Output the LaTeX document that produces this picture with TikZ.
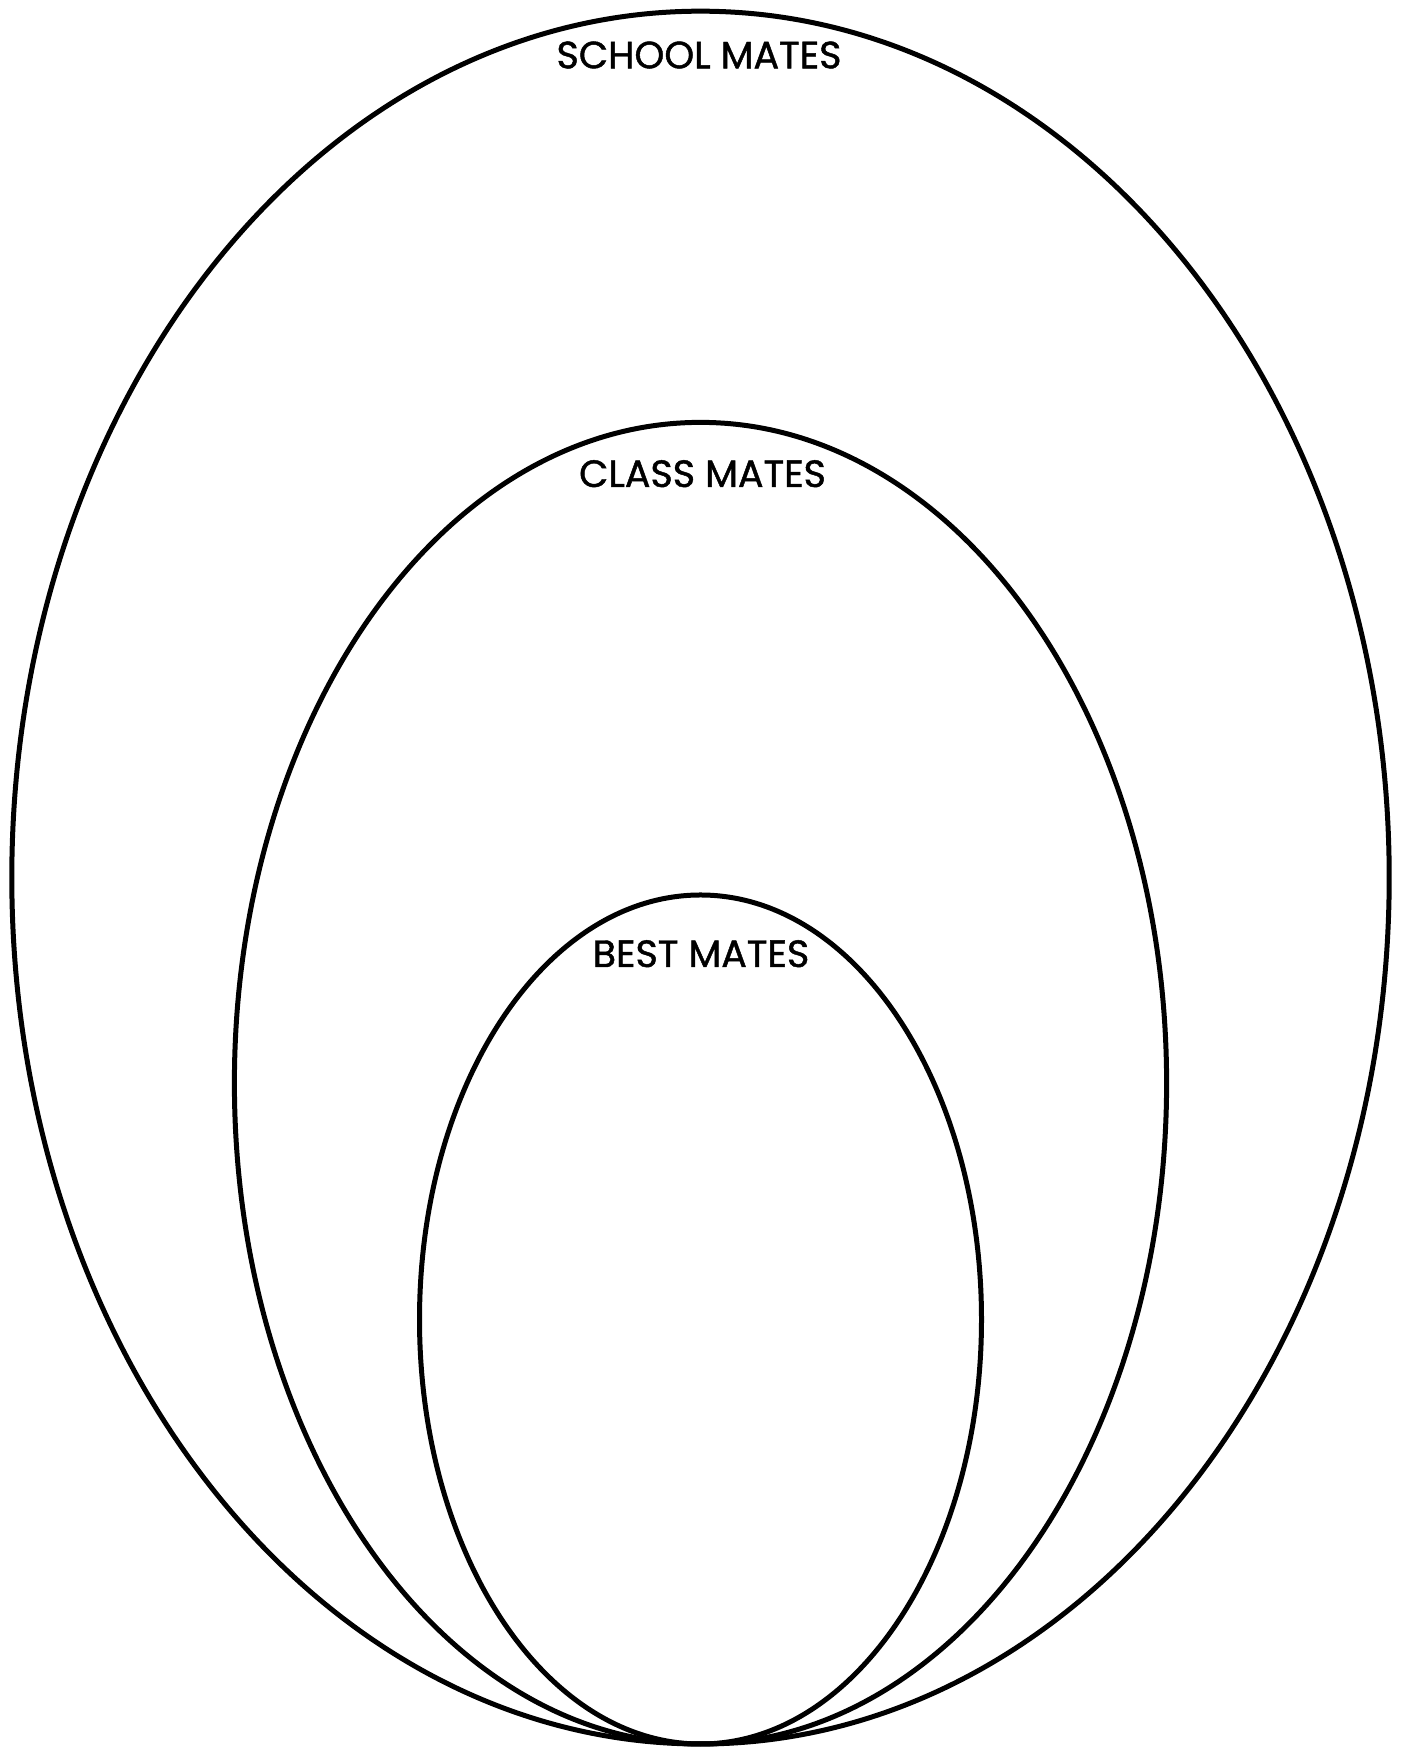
\documentclass[tikz,border=0pt]{standalone}
\usepackage{fontspec}
\setmainfont{Poppins}[FakeBold=1.2]
\usepackage{tikz}

\begin{document}
\begin{tikzpicture}[
  x=1pt, y=1pt,
  ring/.style={draw=black, line width=5pt},
  ringlabel/.style={anchor=base, inner sep=0pt,
    font=\fontsize{38}{40}\selectfont},
]
\useasboundingbox (0,0) rectangle (1401,1750);
% ====== RINGS (all touch at the bottom) ======
\draw[ring] (700.5,872.4) ellipse [x radius=688.7, y radius=866.4];
\draw[ring] (700.5,666.8) ellipse [x radius=466.1, y radius=660.8];
\draw[ring] (700.5,430.5) ellipse [x radius=281.0, y radius=424.5];
%
% ====== LABELS ======
\node[ringlabel] (school) at (699,1681.7) {SCHOOL MATES};
\node[ringlabel] (class) at (702.5,1263) {CLASS MATES};
\node[ringlabel] (best) at (701,783) {BEST MATES};
\end{tikzpicture}
\end{document}
